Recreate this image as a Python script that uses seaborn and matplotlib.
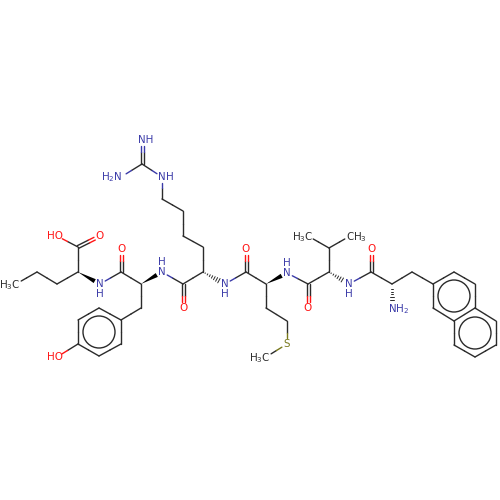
import numpy as np, pandas as pd, matplotlib
matplotlib.use("Agg")
import matplotlib.pyplot as plt
import seaborn as sns

atom_x = [16,37,57,78,78,100,57,100,121,121,141,162,141,121,99,78,78,99,121,57,183,183,203,203,183,183,162,162,142,142,121,225,246,246,266,287,308,308,329,329,308,350,349,371,371,392,392,412,433,454,475,475,454,433,496,496,475,454,266,287,287,266]
atom_y = [284,272,284,272,247,236,236,284,272,249,284,272,308,320,308,320,344,356,344,357,284,308,272,247,236,211,199,177,164,140,177,284,272,249,284,273,284,308,272,248,236,236,284,272,249,284,308,272,284,272,284,308,321,308,321,345,357,345,308,321,344,357]
oxygen_atoms = [5,6,9,19,21,33,37,44]
nitrogen_atoms = [7,11,27,29,30,31,35,42,46]
sulfur_atoms = [60]
methyl_atoms = [0,40,41,61]
single_bonds = [(0,1),(1,2),(2,3),(3,4),(4,6),(7,8),(8,10),(10,12),(12,13),(13,14),(14,15),(15,16),(16,17),(17,18),(18,13),(16,19),(11,20),(20,22),(22,23),(23,24),(24,25),(25,26),(26,27),(27,28),(28,30),(31,32),(32,34),(34,58),(58,59),(59,60),(60,61),(35,36),(36,38),(38,39),(39,40),(39,41),(42,43),(43,45),(45,47),(47,48),(48,49),(49,50),(50,51),(51,52),(52,53),(53,48),(51,54),(54,55),(55,56),(56,57),(57,52)]
double_bonds = [(4,5),(8,9),(20,21),(32,33),(36,37),(43,44),(28,29)]
wedge_bonds = [(3,7),(10,11),(34,35)]
hash_bonds = [(22,31),(38,42),(45,46)]
ring_x = [99,454,475]
ring_y = [332,296,333]
label_text = ["H$_3$C","O","HO","N","H","O","N","H","HO","O","N","H","NH","H$_2$N","N","H","O","N","H","O","H$_3$C","CH$_3$","N","H","O","NH$_2$","S","H$_3$C"]
label_x = [10,100,54.5,100,100,121,162,162,54.5,183,162,169.5,146,112,225,225,246,287,287,308,303,356,349,349,371,398,287,259.5]
label_y = [285,236,236,284,294,249,272,262,357,308,177,177,140,177,284,294,249,273,263,308,237,237,284,294,249,309,344,358]
label_col = ["C","O","O","N","N","O","N","N","O","O","N","N","N","N","N","N","O","N","N","O","C","C","N","N","O","N","S","C"]

colors = {"C":"#2b2b2b","N":"#3a3aa8","O":"#ff1414","S":"#77771a"}
GAP = 6.0
sns.set_theme(style="white")
plt.rcParams['font.family'] = ['DejaVu Sans']
plt.rcParams['mathtext.default'] = 'regular'
fig = plt.figure(figsize=(5,5), dpi=100)
ax = fig.add_axes([0,0,1,1])

x = np.array(atom_x, float); y = np.array(atom_y, float)
atom_el = ["C"]*len(x)
for i in oxygen_atoms: atom_el[i]="O"
for i in nitrogen_atoms: atom_el[i]="N"
for i in sulfur_atoms: atom_el[i]="S"
rows = []
def add(p, q, el, key):
    rows.append(dict(px=p[0],py=p[1],bond=key,el=el,o=0)); rows.append(dict(px=q[0],py=q[1],bond=key,el=el,o=1))
def trimmed(a,b):
    p=np.array([x[a],y[a]]); q=np.array([x[b],y[b]]); d=(q-p)/np.linalg.norm(q-p)
    if atom_el[a]!="C" or a in methyl_atoms: p=p+d*GAP
    if atom_el[b]!="C" or b in methyl_atoms: q=q-d*GAP
    return p,q
k=0
def bond(a,b,off=0.0):
    global k
    p,q=trimmed(a,b)
    u=np.array([x[b]-x[a],y[b]-y[a]]); n=np.array([-u[1],u[0]])/np.linalg.norm(u)
    p=p+n*off; q=q+n*off
    m=np.array([x[a]+x[b],y[a]+y[b]])/2+n*off
    add(p,m,atom_el[a],f"b{k}a"); add(m,q,atom_el[b],f"b{k}b"); k+=1
for a,b in single_bonds: bond(a,b)
for a,b in double_bonds:
    bond(a,b,1.5); bond(a,b,-1.5)
df=pd.DataFrame(rows)
sns.lineplot(data=df,x="px",y="py",units="bond",estimator=None,hue="el",palette=colors,sort=False,
             linewidth=1.0,legend=False,ax=ax)

for a,b in wedge_bonds:
    p=np.array([x[a],y[a]]); q=np.array([x[b],y[b]]); d=(q-p)/np.linalg.norm(q-p); n=np.array([-d[1],d[0]])
    e=q-d*GAP
    ax.fill([p[0],e[0]+n[0]*2.2,e[0]-n[0]*2.2],[p[1],e[1]+n[1]*2.2,e[1]-n[1]*2.2],color="black",lw=0)
for a,b in hash_bonds:
    p=np.array([x[a],y[a]]); q=np.array([x[b],y[b]]); L=np.linalg.norm(q-p); d=(q-p)/L; n=np.array([-d[1],d[0]])
    for t in np.arange(2.5,L-GAP+0.1,2.6):
        c=p+d*t; w=t/(L-GAP)*2.6
        ax.plot([c[0]-n[0]*w,c[0]+n[0]*w],[c[1]-n[1]*w,c[1]+n[1]*w],color="#2b2b2b",lw=0.7)
for cx,cy in zip(ring_x,ring_y):
    ax.add_patch(plt.Circle((cx,cy),16,fill=False,ec="#2b2b2b",lw=1.0))
for t,lx,ly,c in zip(label_text,label_x,label_y,label_col):
    ax.text(lx,ly,t,color=colors[c],fontsize=7.4,ha="center",va="center")
ax.set_xlim(0,500); ax.set_ylim(500,0); ax.set_aspect("equal"); ax.axis("off")
fig.savefig("out.png",dpi=100,facecolor="white")
